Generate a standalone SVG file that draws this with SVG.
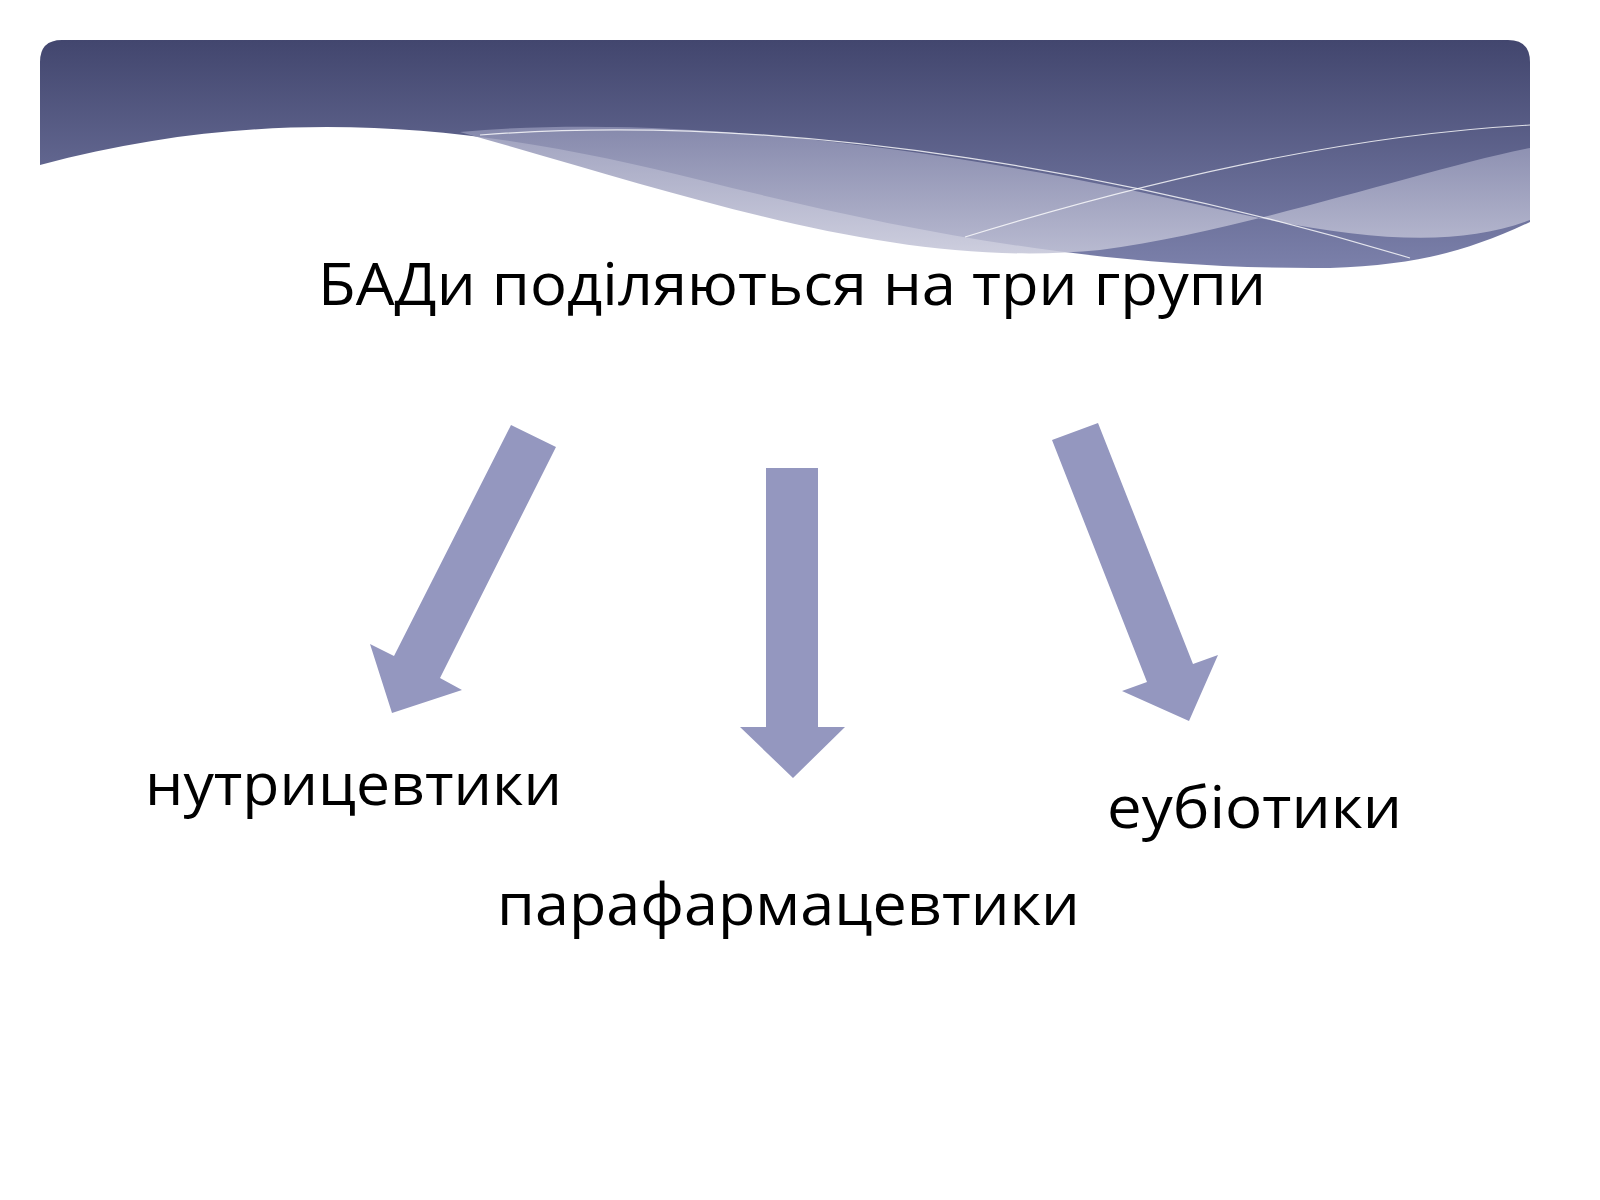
<svg xmlns="http://www.w3.org/2000/svg" width="1600" height="1200" viewBox="0 0 1600 1200">
<defs>
<linearGradient id="hg" x1="0" y1="0" x2="0" y2="1"><stop offset="0" stop-color="#42466e"/><stop offset="1" stop-color="#7b80aa"/></linearGradient>
<linearGradient id="lg" x1="0" y1="0" x2="0" y2="1"><stop offset="0" stop-color="#8e91b3"/><stop offset="1" stop-color="#c4c5d8"/></linearGradient>
<style>.ar{fill:#9497bf}.t{font-family:"Open Sans","DejaVu Sans",sans-serif;fill:#000}</style>
</defs>
<rect width="1600" height="1200" fill="#fff"/>
<g id="header">
<path d="M40,62 Q40,40 62,40 L1508,40 Q1530,40 1530,62 L1530,222 C1470,250 1420,265 1330,268 C1100,270 900,230 700,180 C520,135 300,95 40,165 Z" fill="url(#hg)"/>
<path d="M460,132 C700,110 1000,160 1200,205 C1350,240 1450,250 1530,220 L1530,148 C1420,170 1250,230 1100,250 C900,270 700,200 460,132 Z" fill="url(#lg)" opacity="0.85"/>
<path d="M480,135 C800,110 1150,180 1410,258" fill="none" stroke="#fff" stroke-width="1.2" opacity="0.8"/>
<path d="M965,237 C1150,180 1350,135 1530,125" fill="none" stroke="#fff" stroke-width="1.2" opacity="0.8"/>
</g>
<g id="title"><text class="t" x="792" y="305" font-size="58" text-anchor="middle" textLength="948" lengthAdjust="spacingAndGlyphs">БАДи поділяються на три групи</text></g>
<g id="connectors">
<polygon class="ar" points="511,425 556,447 440,678 462,690 392,713 370,644 394,656"/>
<polygon class="ar" points="766,468 818,468 818,727 845,727 793,778 740,727 766,727"/>
<polygon class="ar" points="1052,440 1098,423 1193,664 1218,655 1189,721 1122,691 1147,682"/>
</g>
<g id="n1"><text class="t" x="145" y="805" font-size="58" textLength="417" lengthAdjust="spacingAndGlyphs">нутрицевтики</text></g>
<g id="n2"><text class="t" x="497" y="925" font-size="58" textLength="583" lengthAdjust="spacingAndGlyphs">парафармацевтики</text></g>
<g id="n3"><text class="t" x="1107" y="828" font-size="58" textLength="295" lengthAdjust="spacingAndGlyphs">еубіотики</text></g>
</svg>
